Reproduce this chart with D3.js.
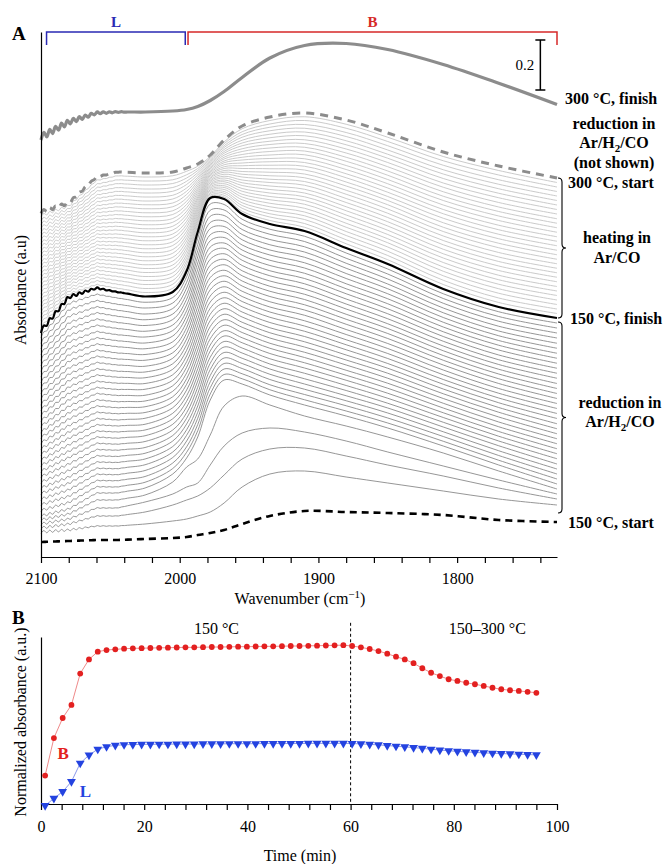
<!DOCTYPE html>
<html>
<head>
<meta charset="utf-8">
<script src="https://cdn.jsdelivr.net/npm/d3@7"></script>
<style>
  body { margin: 0; background: #fff; }
  svg { display: block; }
  text { font-family: "Liberation Serif", "Times New Roman", serif; fill: #000; }
</style>
</head>
<body>
<svg width="670" height="864"></svg>
<script>
// ---- panel A: IR spectra (absorbance in mAU) ----
const wavenumbers = [2100, 2080, 2060, 2045, 2025, 2005, 1995, 1987, 1978, 1968, 1955, 1935, 1910, 1880, 1850, 1810, 1770, 1728];

const start150 = [60, 64, 68, 68, 72, 76, 80, 88, 96, 108, 132, 164, 184, 180, 176, 168, 148, 140];
const finish150 = [904, 1040, 1076, 1060, 1042, 1060, 1144, 1300, 1436, 1432, 1372, 1332, 1304, 1236, 1172, 1072, 1000, 956];
const start300 = [1380, 1416, 1520, 1540, 1536, 1540, 1556, 1572, 1608, 1668, 1724, 1760, 1776, 1748, 1696, 1620, 1564, 1516];
const finish300 = [1680, 1740, 1776, 1780, 1780, 1784, 1790, 1802, 1826, 1862, 1918, 1996, 2046, 2054, 2030, 1970, 1895, 1810];

// one row per wavenumber, one column per spectrum (reduction at 150 °C)
const reductionTable = [
  [100,116,132,148,164,186,209,231,254,276,299,321,343,366,388,411,433,456,478,500,523,545,568,590,612,635,657,680,702,725,747,769,792,814,837,859,882],
  [108,132,152,172,192,218,243,269,295,320,346,372,398,423,449,475,500,526,552,577,603,629,655,680,706,732,757,783,809,834,860,886,912,937,963,989,1014],
  [124,164,196,228,256,281,306,331,355,380,405,430,455,480,504,529,554,579,604,629,654,678,703,728,753,778,803,828,852,877,902,927,952,977,1001,1026,1051],
  [124,164,196,228,256,280,305,329,353,378,402,427,451,475,500,524,548,573,597,621,646,670,695,719,743,768,792,816,841,865,889,914,938,963,987,1011,1036],
  [132,180,220,248,276,299,322,346,369,392,415,438,462,485,508,531,555,578,601,624,647,671,694,717,740,763,787,810,833,856,880,903,926,949,972,996,1019],
  [144,208,252,300,332,354,376,398,420,442,464,486,508,531,553,575,597,619,641,663,685,707,729,751,773,795,817,839,861,884,906,928,950,972,994,1016,1038],
  [152,228,280,360,396,419,441,464,487,509,532,555,577,600,623,645,668,691,713,736,759,781,804,827,849,872,895,917,940,963,985,1008,1031,1053,1076,1099,1121],
  [164,244,296,392,480,505,530,555,579,604,629,654,679,704,728,753,778,803,828,853,878,902,927,952,977,1002,1027,1052,1076,1101,1126,1151,1176,1201,1225,1250,1275],
  [180,276,368,488,628,652,677,701,726,750,775,799,824,848,873,897,922,946,971,995,1020,1044,1069,1093,1118,1142,1167,1191,1216,1240,1265,1289,1314,1338,1363,1387,1412],
  [216,328,444,604,708,730,752,774,796,818,840,862,884,905,927,949,971,993,1015,1037,1059,1081,1103,1125,1147,1169,1191,1213,1235,1256,1278,1300,1322,1344,1366,1388,1410],
  [280,392,496,644,692,713,733,754,774,795,816,836,857,877,898,919,939,960,980,1001,1022,1042,1063,1084,1104,1125,1145,1166,1187,1207,1228,1248,1269,1290,1310,1331,1351],
  [332,432,516,608,648,669,689,710,731,752,772,793,814,835,855,876,897,917,938,959,980,1000,1021,1042,1063,1083,1104,1125,1145,1166,1187,1208,1228,1249,1270,1291,1311],
  [344,436,500,564,608,629,650,671,692,713,735,756,777,798,819,840,861,882,903,924,945,967,988,1009,1030,1051,1072,1093,1114,1135,1156,1177,1199,1220,1241,1262,1283],
  [320,404,464,524,564,584,605,625,645,666,686,707,727,747,768,788,808,829,849,869,890,910,931,951,971,992,1012,1032,1053,1073,1093,1114,1134,1155,1175,1195,1216],
  [296,368,420,480,516,536,556,576,596,615,635,655,675,695,715,735,755,774,794,814,834,854,874,894,914,933,953,973,993,1013,1033,1053,1073,1092,1112,1132,1152],
  [264,324,364,416,444,463,482,501,520,539,558,577,596,615,634,653,672,691,710,729,748,768,787,806,825,844,863,882,901,920,939,958,977,996,1015,1034,1053],
  [232,276,308,344,368,387,406,425,445,464,483,502,521,540,560,579,598,617,636,655,674,694,713,732,751,770,789,808,828,847,866,885,904,923,943,962,981],
  [208,232,252,272,292,312,332,352,372,393,413,433,453,473,493,513,533,554,574,594,614,634,654,674,694,715,735,755,775,795,815,835,855,876,896,916,936]
];

// heating in Ar/CO, 150 -> 300 °C
const heatingTable = [
  [919,935,950,965,981,996,1011,1027,1042,1058,1073,1088,1104,1119,1134,1150,1165,1180,1196,1211,1226,1242,1257,1273,1288,1303,1319,1334,1349,1365],
  [1052,1064,1076,1089,1101,1113,1125,1137,1149,1161,1173,1186,1198,1210,1222,1234,1246,1258,1270,1283,1295,1307,1319,1331,1343,1355,1367,1380,1392,1404],
  [1090,1105,1119,1133,1148,1162,1176,1191,1205,1219,1234,1248,1262,1277,1291,1305,1319,1334,1348,1362,1377,1391,1405,1420,1434,1448,1463,1477,1491,1506],
  [1075,1091,1106,1122,1137,1153,1168,1184,1199,1215,1230,1246,1261,1277,1292,1308,1323,1339,1354,1370,1385,1401,1416,1432,1447,1463,1478,1494,1509,1525],
  [1058,1074,1090,1106,1122,1138,1154,1169,1185,1201,1217,1233,1249,1265,1281,1297,1313,1329,1345,1361,1377,1393,1409,1424,1440,1456,1472,1488,1504,1520],
  [1075,1091,1106,1122,1137,1153,1168,1184,1199,1215,1230,1246,1261,1277,1292,1308,1323,1339,1354,1370,1385,1401,1416,1432,1447,1463,1478,1494,1509,1525],
  [1157,1171,1184,1197,1210,1224,1237,1250,1264,1277,1290,1303,1317,1330,1343,1357,1370,1383,1397,1410,1423,1436,1450,1463,1476,1490,1503,1516,1529,1543],
  [1309,1318,1326,1335,1344,1353,1361,1370,1379,1388,1397,1405,1414,1423,1432,1440,1449,1458,1467,1475,1484,1493,1502,1511,1519,1528,1537,1546,1554,1563],
  [1442,1447,1453,1458,1464,1469,1475,1480,1486,1491,1497,1503,1508,1514,1519,1525,1530,1536,1541,1547,1553,1558,1564,1569,1575,1580,1586,1591,1597,1602],
  [1440,1447,1455,1462,1470,1478,1485,1493,1501,1508,1516,1523,1531,1539,1546,1554,1561,1569,1577,1584,1592,1599,1607,1615,1622,1630,1638,1645,1653,1660],
  [1383,1395,1406,1417,1429,1440,1451,1463,1474,1486,1497,1508,1520,1531,1542,1554,1565,1576,1588,1599,1610,1622,1633,1645,1656,1667,1679,1690,1701,1713],
  [1346,1360,1373,1387,1401,1415,1429,1442,1456,1470,1484,1498,1511,1525,1539,1553,1567,1581,1594,1608,1622,1636,1650,1663,1677,1691,1705,1719,1732,1746],
  [1319,1334,1350,1365,1380,1395,1411,1426,1441,1456,1471,1487,1502,1517,1532,1548,1563,1578,1593,1609,1624,1639,1654,1669,1685,1700,1715,1730,1746,1761],
  [1253,1269,1286,1302,1319,1335,1352,1368,1385,1401,1418,1434,1451,1467,1484,1500,1517,1533,1550,1566,1583,1599,1616,1632,1649,1665,1682,1698,1715,1731],
  [1189,1206,1223,1240,1257,1273,1290,1307,1324,1341,1358,1375,1392,1409,1426,1442,1459,1476,1493,1510,1527,1544,1561,1578,1595,1611,1628,1645,1662,1679],
  [1090,1107,1125,1143,1160,1178,1196,1213,1231,1249,1266,1284,1302,1319,1337,1355,1373,1390,1408,1426,1443,1461,1479,1496,1514,1532,1549,1567,1585,1602],
  [1018,1036,1055,1073,1091,1109,1127,1146,1164,1182,1200,1218,1237,1255,1273,1291,1309,1327,1346,1364,1382,1400,1418,1437,1455,1473,1491,1509,1528,1546],
  [974,992,1010,1028,1046,1064,1082,1101,1119,1137,1155,1173,1191,1209,1227,1245,1263,1281,1299,1317,1335,1353,1372,1390,1408,1426,1444,1462,1480,1498]
];

// gas-phase CO rotational ripple (peak/trough positions and relative size)
const rippleWn = [2100, 2097.9, 2095.8, 2093.7, 2091.6, 2089.5, 2087.3, 2085.2, 2083.1, 2081, 2078.8, 2076.7, 2074.5, 2072.4, 2070.2, 2068.1, 2065.9, 2063.8, 2061.6, 2059.4, 2057.3, 2055.1, 2052.9, 2050.7, 2048.6, 2046.4, 2044.2, 2042, 2039.8, 2037.6];
const rippleShape = [-1, 1, -1, 1, -0.95, 0.95, -0.9, 0.9, -0.85, 0.8, -0.8, 0.75, -0.7, 0.65, -0.6, 0.55, -0.5, 0.45, -0.4, 0.35, -0.3, 0.28, -0.25, 0.2, -0.18, 0.15, -0.12, 0.1, -0.06, 0];

const bandNames = ["L", "B"];
const bandFrom = [2096, 1994];
const bandTo = [1996, 1728];
const bandColors = ["#2a2ab4", "#d62828"];

const wnTicks = [2100, 2080, 2060, 2040, 2020, 2000, 1980, 1960, 1940, 1920, 1900, 1880, 1860, 1840, 1820, 1800, 1780, 1760, 1740];
const wnTickLabels = [2100, 2000, 1900, 1800];

// ---- panel B: normalized band absorbance vs time ----
const times = [0.8, 2.5, 4.2, 5.9, 7.6, 9.3, 11.0, 12.7, 14.4, 16.1, 17.8, 19.5, 21.2, 22.9, 24.6, 26.3, 28.0, 29.7, 31.4, 33.1, 34.8, 36.5, 38.2, 39.9, 41.6, 43.3, 45.0, 46.7, 48.4, 50.1, 51.8, 53.5, 55.2, 56.9, 58.6, 60.3, 62.0, 63.7, 65.4, 67.1, 68.8, 70.5, 72.2, 73.9, 75.6, 77.3, 79.0, 80.7, 82.4, 84.1, 85.8, 87.5, 89.2, 90.9, 92.6, 94.3, 96.0];
const bandB = [0.170, 0.395, 0.515, 0.593, 0.781, 0.866, 0.912, 0.922, 0.926, 0.930, 0.932, 0.933, 0.934, 0.935, 0.936, 0.937, 0.938, 0.938, 0.939, 0.940, 0.940, 0.941, 0.942, 0.942, 0.943, 0.944, 0.944, 0.945, 0.946, 0.946, 0.947, 0.948, 0.949, 0.950, 0.951, 0.946, 0.938, 0.928, 0.916, 0.900, 0.882, 0.866, 0.843, 0.813, 0.786, 0.766, 0.747, 0.737, 0.726, 0.717, 0.707, 0.696, 0.687, 0.681, 0.677, 0.672, 0.666];
const bandL = [-0.010, 0.034, 0.074, 0.134, 0.244, 0.293, 0.328, 0.343, 0.351, 0.355, 0.356, 0.357, 0.357, 0.358, 0.358, 0.359, 0.359, 0.359, 0.360, 0.360, 0.360, 0.361, 0.361, 0.361, 0.361, 0.362, 0.362, 0.362, 0.362, 0.362, 0.363, 0.363, 0.363, 0.363, 0.363, 0.362, 0.360, 0.357, 0.354, 0.350, 0.346, 0.342, 0.338, 0.333, 0.328, 0.323, 0.319, 0.315, 0.312, 0.309, 0.306, 0.304, 0.302, 0.300, 0.298, 0.296, 0.294];
const timeTicks = [0, 4, 8, 12, 16, 20, 24, 28, 32, 36, 40, 44, 48, 52, 56, 60, 64, 68, 72, 76, 80, 84, 88, 92, 96, 100];
const timeTickLabels = [0, 20, 40, 60, 80, 100];
const phaseBoundary = 60;

const svg = d3.select("svg");

// ================= panel A =================
const x = d3.scaleLinear().domain([2100, 1728]).range([41, 557]);
const y = d3.scaleLinear().domain([0, 2100]).range([557, 32]);

const line = d3.line()
  .x(d => x(d[0]))
  .y(d => y(d[1]))
  .curve(d3.curveCatmullRom.alpha(0.5));

// spectrum points with the gas-phase ripple laid over the left edge
function spectrum(vals, amp) {
  const base = d3.scaleLinear().domain(wavenumbers).range(vals);
  const rippleEnd = rippleWn[rippleWn.length - 1];
  const pts = rippleWn.map((w, i) => [w, base(w) + amp * rippleShape[i]]);
  wavenumbers.forEach((w, i) => { if (w < rippleEnd) pts.push([w, vals[i]]); });
  return pts;
}

const gA = svg.append("g");

gA.selectAll("path.heat")
  .data(d3.transpose(heatingTable))
  .join("path")
  .attr("class", "heat")
  .attr("fill", "none")
  .attr("stroke", "#c4c4c4")
  .attr("stroke-width", 0.9)
  .attr("d", d => line(spectrum(d, 5)));

gA.selectAll("path.red")
  .data(d3.transpose(reductionTable))
  .join("path")
  .attr("class", "red")
  .attr("fill", "none")
  .attr("stroke", "#8a8a8a")
  .attr("stroke-width", 0.9)
  .attr("d", d => line(spectrum(d, 5)));

const special = [
  { vals: start150, color: "#000", width: 2.6, dash: "7,5", amp: 0 },
  { vals: finish150, color: "#000", width: 2.2, dash: null, amp: 8 },
  { vals: start300, color: "#8c8c8c", width: 3, dash: "8,6", amp: 6 },
  { vals: finish300, color: "#8c8c8c", width: 3.2, dash: null, amp: 12 }
];

gA.selectAll("path.key")
  .data(special)
  .join("path")
  .attr("class", "key")
  .attr("fill", "none")
  .attr("stroke", d => d.color)
  .attr("stroke-width", d => d.width)
  .attr("stroke-dasharray", d => d.dash)
  .attr("d", d => line(spectrum(d.vals, d.amp)));

// axes
gA.append("g")
  .attr("transform", `translate(0,${y(0)})`)
  .call(d3.axisBottom(x).tickValues(wnTicks).tickSize(6).tickSizeOuter(0).tickPadding(10)
    .tickFormat(d => wnTickLabels.includes(d) ? d : ""))
  .call(g => g.selectAll("text").attr("font-size", 16).attr("font-family", "Liberation Serif"))
  .call(g => g.selectAll("line, path").attr("stroke", "#000").attr("stroke-width", 1.2));

gA.append("g")
  .attr("transform", `translate(${x(2100)},0)`)
  .call(d3.axisLeft(y).tickValues([]).tickSizeOuter(0))
  .call(g => g.select("path").attr("stroke", "#000").attr("stroke-width", 1.2));

const wnTitle = svg.append("text")
  .attr("x", 300).attr("y", 604)
  .attr("text-anchor", "middle").attr("font-size", 16);
wnTitle.append("tspan").text("Wavenumber (cm");
wnTitle.append("tspan").attr("font-size", 11).attr("dy", -6).text("\u22121");
wnTitle.append("tspan").attr("dy", 6).text(")");

svg.append("text")
  .attr("transform", "translate(26,290) rotate(-90)")
  .attr("text-anchor", "middle").attr("font-size", 16)
  .text("Absorbance (a.u)");

svg.append("text").attr("x", 12).attr("y", 40)
  .attr("font-size", 19).attr("font-weight", "bold").text("A");

// band brackets
const bracketTop = y(2100);
bandNames.forEach((name, i) => {
  const x0 = x(bandFrom[i]), x1 = x(bandTo[i]);
  svg.append("path")
    .attr("d", `M${x0},${bracketTop + 13}V${bracketTop}H${x1}V${bracketTop + 13}`)
    .attr("fill", "none").attr("stroke", bandColors[i]).attr("stroke-width", 1.5);
  svg.append("text")
    .attr("x", (x0 + x1) / 2).attr("y", bracketTop - 5)
    .attr("text-anchor", "middle").attr("font-size", 15).attr("font-weight", "bold")
    .style("fill", bandColors[i]).text(name);
});

// scale bar 0.2 (= 200 mAU)
const sbX = x(1740);
svg.append("path")
  .attr("d", `M${sbX - 5},${y(2068)}H${sbX + 5}M${sbX},${y(2068)}V${y(1868)}M${sbX - 5},${y(1868)}H${sbX + 5}`)
  .attr("stroke", "#000").attr("stroke-width", 1.5).attr("fill", "none");
svg.append("text")
  .attr("x", sbX - 6).attr("y", (y(2068) + y(1868)) / 2 + 5)
  .attr("text-anchor", "end").attr("font-size", 15).text("0.2");

// braces at the right end
function brace(yTop, yBot) {
  const x0 = 558, w = 4, m = (yTop + yBot) / 2;
  return `M${x0},${yTop}Q${x0 + w},${yTop} ${x0 + w},${yTop + w}L${x0 + w},${m - w}` +
    `Q${x0 + w},${m} ${x0 + 2 * w},${m}Q${x0 + w},${m} ${x0 + w},${m + w}` +
    `L${x0 + w},${yBot - w}Q${x0 + w},${yBot} ${x0},${yBot}`;
}
const lastIdx = wavenumbers.length - 1;
const reductionLast = reductionTable[lastIdx];
const braces = [
  [y(start300[lastIdx]), y(finish150[lastIdx])],
  [y(finish150[lastIdx]) + 4, y(reductionLast[0]) + 8]
];
svg.selectAll("path.brace")
  .data(braces)
  .join("path")
  .attr("class", "brace")
  .attr("d", d => brace(d[0], d[1]))
  .attr("fill", "none").attr("stroke", "#000").attr("stroke-width", 1.1);

// right-hand labels
function addLabel(lines, xPos, yPos, anchor) {
  const t = svg.append("text")
    .attr("font-size", 16).attr("font-weight", "bold")
    .attr("text-anchor", anchor);
  lines.forEach((ln, i) => {
    const base = t.append("tspan").attr("x", xPos).attr("y", yPos + i * 19.5);
    if (ln.includes("H2")) {
      const parts = ln.split("H2");
      base.text(parts[0] + "H");
      t.append("tspan").attr("font-size", 11).attr("dy", 4).text("2");
      t.append("tspan").attr("dy", -4).text(parts[1]);
    } else {
      base.text(ln);
    }
  });
}
addLabel(["300 \u00b0C, finish"], 565, y(finish300[lastIdx]) - 1, "start");
addLabel(["reduction in", "Ar/H2/CO", "(not shown)"], 614, y(finish300[lastIdx]) + 24, "middle");
addLabel(["300 \u00b0C, start"], 568, y(start300[lastIdx]) + 10, "start");
addLabel(["heating in", "Ar/CO"], 617, (braces[0][0] + braces[0][1]) / 2 - 5, "middle");
addLabel(["150 \u00b0C, finish"], 570, y(finish150[lastIdx]) + 6, "start");
addLabel(["reduction in", "Ar/H2/CO"], 620, (braces[1][0] + braces[1][1]) / 2 - 10, "middle");
addLabel(["150 \u00b0C, start"], 568, y(start150[lastIdx]) + 6, "start");

// ================= panel B =================
const xB = d3.scaleLinear().domain([0, 100]).range([41, 557]);
const yB = d3.scaleLinear().domain([0, 1]).range([804, 637]);
const gB = svg.append("g");

gB.append("line")
  .attr("x1", xB(phaseBoundary)).attr("x2", xB(phaseBoundary))
  .attr("y1", yB(1.085)).attr("y2", yB(0))
  .attr("stroke", "#000").attr("stroke-width", 1).attr("stroke-dasharray", "3,2.5");

gB.append("g")
  .attr("transform", `translate(0,${yB(0)})`)
  .call(d3.axisBottom(xB).tickValues(timeTicks).tickSize(6).tickSizeOuter(0).tickPadding(11)
    .tickFormat(d => timeTickLabels.includes(d) ? d : ""))
  .call(g => g.selectAll("text").attr("font-size", 16).attr("font-family", "Liberation Serif"))
  .call(g => g.selectAll("line, path").attr("stroke", "#000").attr("stroke-width", 1.2));

gB.append("g")
  .attr("transform", `translate(${xB(0)},0)`)
  .call(d3.axisLeft(yB).tickValues([]).tickSizeOuter(0))
  .call(g => g.select("path").attr("stroke", "#000").attr("stroke-width", 1.2));

const lineB = d3.line().x(d => xB(d[0])).y(d => yB(d[1]));
const ptsB = times.map((t, i) => [t, bandB[i]]);
const ptsL = times.map((t, i) => [t, bandL[i]]);

gB.append("path").attr("d", lineB(ptsB))
  .attr("fill", "none").attr("stroke", "#ef8a8a").attr("stroke-width", 1);
gB.append("path").attr("d", lineB(ptsL))
  .attr("fill", "none").attr("stroke", "#8a98ec").attr("stroke-width", 1);

gB.selectAll("circle.b")
  .data(ptsB)
  .join("circle")
  .attr("class", "b")
  .attr("cx", d => xB(d[0])).attr("cy", d => yB(d[1]))
  .attr("r", 2.9).attr("fill", "#e32020");

const tri = d3.symbol(d3.symbolTriangle, 34);
gB.selectAll("path.l")
  .data(ptsL)
  .join("path")
  .attr("class", "l")
  .attr("d", tri)
  .attr("transform", d => `translate(${xB(d[0])},${yB(d[1])}) rotate(180)`)
  .attr("fill", "#2443e0");

svg.append("text").attr("x", xB(34)).attr("y", yB(1.02))
  .attr("text-anchor", "middle").attr("font-size", 16).text("150 \u00b0C");
svg.append("text").attr("x", xB(86.5)).attr("y", yB(1.02))
  .attr("text-anchor", "middle").attr("font-size", 16).text("150\u2013300 \u00b0C");

svg.append("text").attr("x", xB(4.3)).attr("y", yB(0.27))
  .attr("text-anchor", "middle").attr("font-size", 17).attr("font-weight", "bold")
  .style("fill", "#e32020").text("B");
svg.append("text").attr("x", xB(8.6)).attr("y", yB(0.04))
  .attr("text-anchor", "middle").attr("font-size", 17).attr("font-weight", "bold")
  .style("fill", "#2443e0").text("L");

svg.append("text").attr("x", 300).attr("y", 861)
  .attr("text-anchor", "middle").attr("font-size", 16).text("Time (min)");
svg.append("text")
  .attr("transform", "translate(26,722) rotate(-90)")
  .attr("text-anchor", "middle").attr("font-size", 16)
  .text("Normalized absorbance (a.u.)");

svg.append("text").attr("x", 12).attr("y", 624)
  .attr("font-size", 19).attr("font-weight", "bold").text("B");
</script>
</body>
</html>
